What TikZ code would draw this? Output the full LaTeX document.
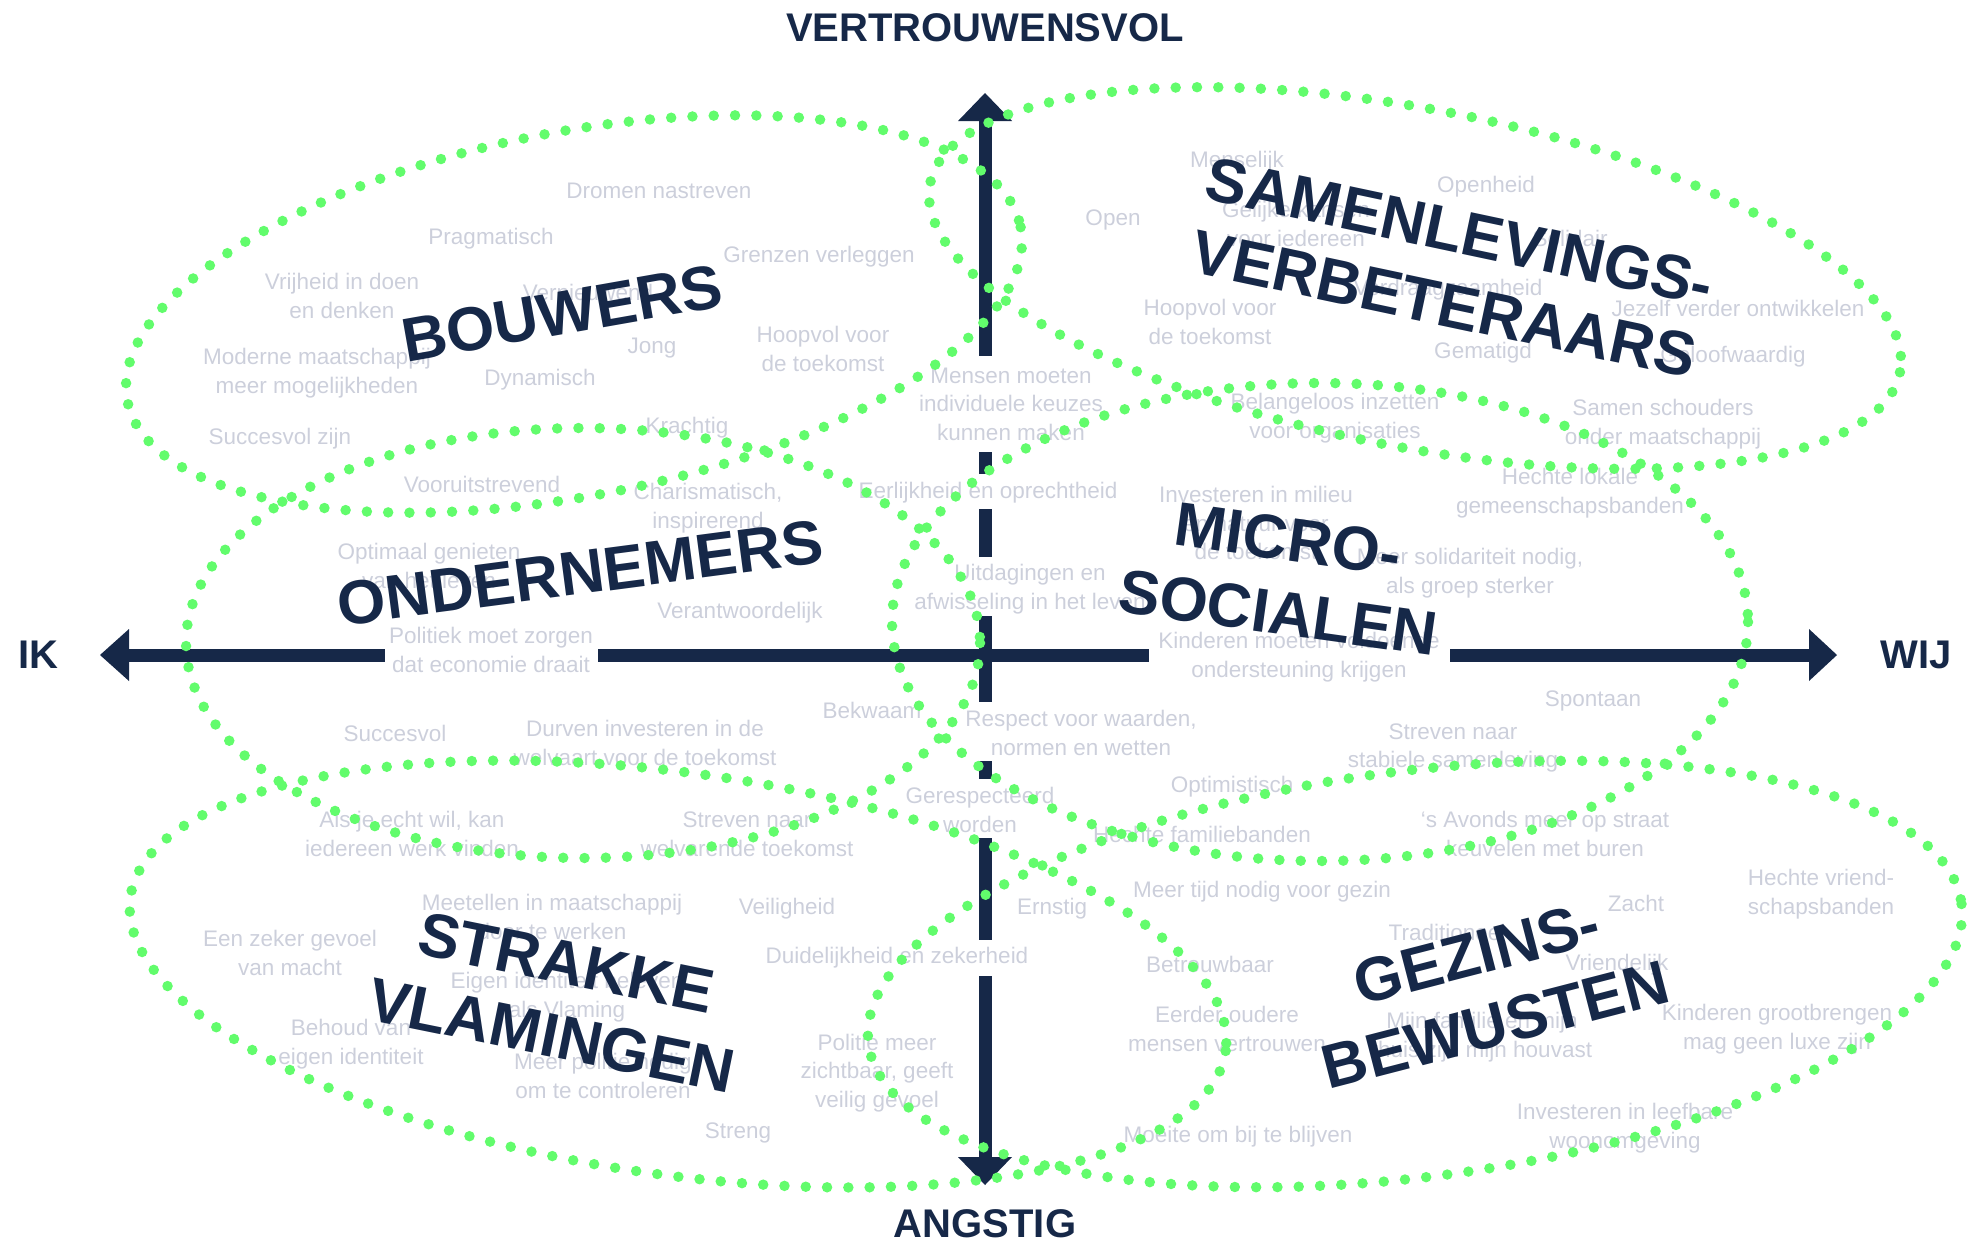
\documentclass[tikz,border=0pt]{standalone}
\usepackage{fontspec}
\setmainfont{Liberation Sans}
\definecolor{navy}{RGB}{22,40,72}
\definecolor{dotgreen}{RGB}{98,252,108}
\definecolor{txtgray}{RGB}{204,207,219}
\tikzset{
  small/.style={text=txtgray, font=\fontsize{22.5}{28.5}\selectfont, align=center, inner sep=0pt},
  big/.style={text=navy, font=\fontsize{62}{74}\selectfont\bfseries, align=center, inner sep=0pt},
  axislabel/.style={text=navy, font=\fontsize{40}{48}\selectfont\bfseries, inner sep=0pt},
  dots/.style={draw=dotgreen, line width=10.5pt, dash pattern=on 0pt off 21.3pt, line cap=round},
  axisline/.style={draw=navy, line width=13pt},
  headtip/.style={fill=navy},
}
\begin{document}
\begin{tikzpicture}[x=1pt,y=-1pt]
\useasboundingbox (0,0) rectangle (1969,1243);
% axes
\draw[axisline] (129,655) -- (385,655);
\draw[axisline] (598,655) -- (1149,655);
\draw[axisline] (1450,655) -- (1810,655);
\draw[axisline] (985,120) -- (985,356);
\draw[axisline] (985,452) -- (985,474);
\draw[axisline] (985,509) -- (985,557);
\draw[axisline] (985,616) -- (985,702);
\draw[axisline] (985,761) -- (985,779);
\draw[axisline] (985,838) -- (985,940);
\draw[axisline] (985,976) -- (985,1158);
\fill[headtip] (100,655) -- (129,629) -- (129,681) -- cycle;
\fill[headtip] (1837,655) -- (1809,629) -- (1809,681) -- cycle;
\fill[headtip] (985,93) -- (958,121) -- (1012,121) -- cycle;
\fill[headtip] (985,1185) -- (958,1157) -- (1012,1157) -- cycle;
% axis labels
\node[axislabel] (vv) at (985,28) {VERTROUWENSVOL};
\node[axislabel] (ang) at (985,1224) {ANGSTIG};
\node[axislabel] (ik) at (38,655) {IK};
\node[axislabel] (wij) at (1916,655) {WIJ};
% small texts
\node[small] (t1) at (659,191) {Dromen nastreven};
\node[small] (t2) at (491,239) {Pragmatisch};
\node[small] (t3) at (342,296) {Vrijheid in doen\\en denken};
\node[small] (t4) at (588,292) {Vernieuwend};
\node[small] (t5) at (819,257) {Grenzen verleggen};
\node[small] (t6) at (317,373) {Moderne maatschappij\\meer mogelijkheden};
\node[small] (t7) at (652,348) {Jong};
\node[small] (t8) at (540,380) {Dynamisch};
\node[small] (t9) at (823,349) {Hoopvol voor\\de toekomst};
\node[small] (t10) at (280,439) {Succesvol zijn};
\node[small] (t11) at (687,428) {Krachtig};
\node[small] (t12) at (1011,404) {Mensen moeten\\individuele keuzes\\kunnen maken};
\node[small] (t13) at (1113,220) {Open};
\node[small] (t14) at (1237,162) {Menselijk};
\node[small] (t15) at (1296,224) {Gelijke kansen\\voor iedereen};
\node[small] (t16) at (1486,187) {Openheid};
\node[small] (t17) at (1570,238) {Solidair};
\node[small] (t18) at (1448,290) {Verdraagzaamheid};
\node[small] (t19) at (1738,308) {Jezelf verder ontwikkelen};
\node[small] (t20) at (1733,357) {Geloofwaardig};
\node[small] (t21) at (1483,353) {Gematigd};
\node[small] (t22) at (1210,322) {Hoopvol voor\\de toekomst};
\node[small] (t23) at (1335,418) {Belangeloos inzetten\\voor organisaties};
\node[small] (t24) at (1663,424) {Samen schouders\\onder maatschappij};
\node[small] (t25) at (482,484) {Vooruitstrevend};
\node[small] (t26) at (708,508) {Charismatisch,\\inspirerend};
\node[small] (t27) at (988,493) {Eerlijkheid en oprechtheid};
\node[small] (t28) at (1256,523) {Investeren in milieu\\en natuur voor\\de toekomst};
\node[small] (t29) at (1570,493) {Hechte lokale\\gemeenschapsbanden};
\node[small] (t30) at (429,566) {Optimaal genieten\\van het leven};
\node[small] (t31) at (740,613) {Verantwoordelijk};
\node[small] (t32) at (1030,589) {Uitdagingen en\\afwisseling in het leven};
\node[small] (t33) at (1470,573) {Meer solidariteit nodig,\\als groep sterker};
\node[small] (t34) at (491,650) {Politiek moet zorgen\\dat economie draait};
\node[small] (t35) at (1299,657) {Kinderen moeten voldoende\\ondersteuning krijgen};
\node[small] (t36) at (1593,701) {Spontaan};
\node[small] (t37) at (395,733) {Succesvol};
\node[small] (t38) at (645,743) {Durven investeren in de\\welvaart voor de toekomst};
\node[small] (t39) at (872,710) {Bekwaam};
\node[small] (t40) at (1081,733) {Respect voor waarden,\\normen en wetten};
\node[small] (t41) at (1453,748) {Streven naar\\stabiele samenleving};
\node[small] (t42) at (1232,787) {Optimistisch};
\node[small] (t43) at (980,810) {Gerespecteerd\\worden};
\node[small] (t44) at (412,834) {Als je echt wil, kan\\iedereen werk vinden};
\node[small] (t45) at (747,834) {Streven naar\\welvarende toekomst};
\node[small] (t46) at (1202,834) {Hechte familiebanden};
\node[small] (t47) at (1545,834) {‘s Avonds meer op straat\\keuvelen met buren};
\node[small] (t48) at (552,917) {Meetellen in maatschappij\\door te werken};
\node[small] (t49) at (787,909) {Veiligheid};
\node[small] (t50) at (1052,909) {Ernstig};
\node[small] (t51) at (1262,892) {Meer tijd nodig voor gezin};
\node[small] (t52) at (290,953) {Een zeker gevoel\\van macht};
\node[small] (t53) at (567,997) {Eigen identiteit beleven\\als Vlaming};
\node[small] (t54) at (897,958) {Duidelijkheid en zekerheid};
\node[small] (t55) at (1210,964) {Betrouwbaar};
\node[small] (t56) at (1447,932) {Traditioneel};
\node[small] (t57) at (1636,903) {Zacht};
\node[small] (t58) at (1821,894) {Hechte vriend-\\schapsbanden};
\node[small] (t59) at (1617,965) {Vriendelijk};
\node[small] (t60) at (351,1044) {Behoud van\\eigen identiteit};
\node[small] (t61) at (603,1076) {Meer politie nodig\\om te controleren};
\node[small] (t62) at (877,1073) {Politie meer\\zichtbaar, geeft\\veilig gevoel};
\node[small] (t63) at (1227,1029) {Eerder oudere\\mensen vertrouwen};
\node[small] (t64) at (1482,1037) {Mijn familie en mijn\\thuis zijn mijn houvast};
\node[small] (t65) at (1777,1029) {Kinderen grootbrengen\\mag geen luxe zijn};
\node[small] (t66) at (738,1133) {Streng};
\node[small] (t67) at (1238,1137) {Moeite om bij te blijven};
\node[small] (t68) at (1625,1128) {Investeren in leefbare\\woonomgeving};
% dotted ellipses
\draw[dots, rotate around={11:(574,314)}] (574,314) ellipse [x radius=455, y radius=182];
\draw[dots, rotate around={-11:(1415,278)}] (1415,278) ellipse [x radius=494, y radius=169];
\draw[dots] (583,643) ellipse [x radius=397, y radius=215];
\draw[dots] (1320,622) ellipse [x radius=428, y radius=239];
\draw[dots, rotate around={-8:(678,974)}] (678,974) ellipse [x radius=553, y radius=201];
\draw[dots, rotate around={7.3:(1415,974)}] (1415,974) ellipse [x radius=551, y radius=203];
% category labels
\node[big, rotate=10] (bouw) at (562,313) {BOUWERS};
\node[big, rotate=7.5] (ondn) at (580,573) {ONDERNEMERS};
\node[big, rotate=-12] (saml) at (1452,268) {SAMENLEVINGS-\\VERBETERAARS};
\node[big, rotate=-8] (micr) at (1283,576) {MICRO-\\SOCIALEN};
\node[big, rotate=-11.5] (strk) at (559,999) {STRAKKE\\VLAMINGEN};
\node[big, rotate=14.5] (gezn) at (1486,989) {GEZINS-\\BEWUSTEN};
\end{tikzpicture}
\end{document}
